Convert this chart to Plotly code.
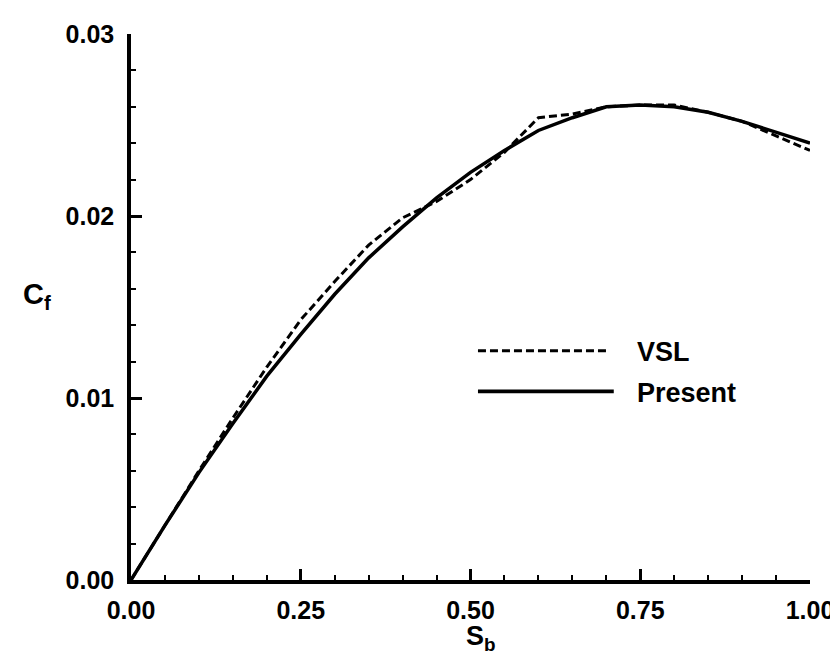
import plotly.graph_objects as go

s_b = [0.00, 0.05, 0.10, 0.15, 0.20, 0.25, 0.30, 0.35, 0.40, 0.45, 0.50,
       0.55, 0.60, 0.65, 0.70, 0.75, 0.80, 0.85, 0.90, 0.95, 1.00]
cf_present = [0.0, 0.0030, 0.0059, 0.0086, 0.0112, 0.0135, 0.0157, 0.0177, 0.0194, 0.0210, 0.0224,
              0.0236, 0.0247, 0.0254, 0.0260, 0.0261, 0.0260, 0.0257, 0.0252, 0.0246, 0.0240]
cf_vsl = [0.0, 0.0030, 0.0060, 0.0089, 0.0117, 0.0143, 0.0164, 0.0184, 0.0199, 0.0208, 0.0220,
          0.0235, 0.0254, 0.0256, 0.0260, 0.0261, 0.0261, 0.0257, 0.0252, 0.0244, 0.0236]

x_ticks = [0.0, 0.25, 0.5, 0.75, 1.0]
x_ticklabels = ["0.00", "0.25", "0.50", "0.75", "1.00"]
y_ticks = [0.0, 0.01, 0.02, 0.03]
y_ticklabels = ["0.00", "0.01", "0.02", "0.03"]

FONT = "Liberation Sans, Arial, sans-serif"

fig = go.Figure()
fig.add_trace(go.Scatter(x=s_b, y=cf_vsl, mode="lines", name="VSL",
                         line=dict(color="black", width=3, dash="8px,4px")))
fig.add_trace(go.Scatter(x=s_b, y=cf_present, mode="lines", name="Present",
                         line=dict(color="black", width=3.5)))

axis_common = dict(showgrid=False, zeroline=False, showline=True, linecolor="black",
                   linewidth=3.5, ticks="inside", ticklen=11, tickwidth=2.5, tickcolor="black",
                   tickfont=dict(family=FONT, size=25, color="black", weight="bold"))

fig.update_xaxes(range=[0, 1], tickvals=x_ticks, ticktext=x_ticklabels, ticklabelstandoff=5,
                 minor=dict(dtick=0.05, ticks="inside", ticklen=5, tickwidth=2, tickcolor="black"),
                 **axis_common)
fig.update_yaxes(range=[0, 0.03], tickvals=y_ticks, ticktext=y_ticklabels, ticklabelstandoff=8,
                 minor=dict(dtick=0.002, ticks="inside", ticklen=5, tickwidth=2, tickcolor="black"),
                 **axis_common)

# legend (drawn manually to match long sample lines)
fig.add_shape(type="line", xref="paper", yref="paper", x0=0.511, x1=0.701, y0=0.42, y1=0.42,
              line=dict(color="black", width=3, dash="8px,4px"))
fig.add_shape(type="line", xref="paper", yref="paper", x0=0.511, x1=0.711, y0=0.3455, y1=0.3455,
              line=dict(color="black", width=3.8))
fig.add_annotation(xref="paper", yref="paper", x=0.743, y=0.418, xanchor="left", yanchor="middle",
                   text="<b>VSL</b>", showarrow=False,
                   font=dict(family=FONT, size=27, color="black"))
fig.add_annotation(xref="paper", yref="paper", x=0.743, y=0.342, xanchor="left", yanchor="middle",
                   text="<b>Present</b>", showarrow=False,
                   font=dict(family=FONT, size=27, color="black"))

# axis titles
fig.add_annotation(xref="paper", yref="paper", x=-0.162, y=0.52, xanchor="left", yanchor="middle",
                   text="<b>C<sub>f</sub></b>", showarrow=False,
                   font=dict(family=FONT, size=29, color="black"))
fig.add_annotation(xref="paper", yref="paper", x=0.49, y=-0.072, xanchor="left", yanchor="top",
                   text="<b>S<sub>b</sub></b>", showarrow=False,
                   font=dict(family=FONT, size=27, color="black"))

fig.update_layout(width=838, height=657, showlegend=False,
                  plot_bgcolor="white", paper_bgcolor="white",
                  margin=dict(l=123, r=30, t=22, b=85))

fig.write_html("out.html")
